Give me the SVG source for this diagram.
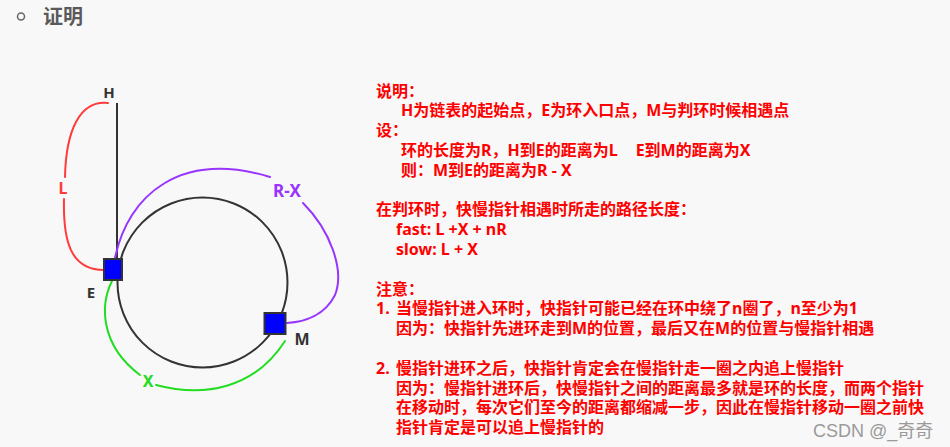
<svg xmlns="http://www.w3.org/2000/svg" width="950" height="447" viewBox="0 0 950 447">
<style>
.lbl{font-family:"Noto Sans","Liberation Sans","Noto Sans CJK SC",sans-serif;font-weight:bold;text-anchor:middle;dominant-baseline:central}
.note{font-family:"Noto Sans","Noto Sans CJK SC",sans-serif;font-weight:bold;font-size:16px;fill:#ff0000}
.box{fill:#0000ff;stroke:#333;stroke-width:2}
.ln{fill:none;stroke-width:2;stroke-linecap:round}
</style>
<rect x="0" y="0" width="950" height="447" fill="#f8f8f8"/>
<g id="title">
<circle cx="21" cy="16.5" r="3.5" fill="none" stroke="#666" stroke-width="1.5"/>
<text x="43" y="24" font-family="'Noto Sans CJK SC',sans-serif" font-weight="bold" font-size="20" fill="#5a5a5a">证明</text>
</g>
<g id="ring">
<circle cx="202.5" cy="282.5" r="85" fill="none" stroke="#333" stroke-width="2"/>
</g>
<g id="connectors">
<line x1="117" y1="103" x2="117" y2="262" stroke="#333" stroke-width="2"/>
<path class="ln" stroke="#ff3b3b" d="M108,103 C80,100 66,130 65,177"/>
<path class="ln" stroke="#ff3b3b" d="M64,199 C63,240 70,270 104,270"/>
<path class="ln" stroke="#9933ff" d="M115,258 C128,195 180,150 270,177"/>
<path class="ln" stroke="#9933ff" d="M303,203 C330,230 345,270 335,295 C325,315 305,322 287,323"/>
<path class="ln" stroke="#22dd22" d="M112,281 C100,305 100,345 140,375"/>
<path class="ln" stroke="#22dd22" d="M156,385 C205,398 255,388 285,341"/>
<text class="lbl" x="63" y="188" font-size="16" fill="#ff3b3b">L</text>
<text class="lbl" x="287" y="190" font-size="17" fill="#9933ff">R-X</text>
<text class="lbl" x="148" y="381" font-size="16" fill="#22dd22">X</text>
</g>
<g id="node-H">
<text class="lbl" x="109" y="92" font-size="15" fill="#333">H</text>
</g>
<g id="node-E">
<rect class="box" x="104" y="259" width="18" height="21"/>
<text class="lbl" x="91" y="292" font-size="15" fill="#333">E</text>
</g>
<g id="node-M">
<rect class="box" x="264.5" y="313" width="21" height="21"/>
<text class="lbl" x="302" y="339" font-size="16" fill="#333">M</text>
</g>
<g id="notes" class="note">
<text x="376" y="96.5">说明：</text>
<text x="401" y="116.3">H为链表的起始点，E为环入口点，M与判环时候相遇点</text>
<text x="376" y="136.1">设：</text>
<text x="401" y="155.9">环的长度为R，H到E的距离为L<tspan dx="18">E到M的距离为X</tspan></text>
<text x="401" y="175.7">则：M到E的距离为R - X</text>
<text x="376" y="215.3">在判环时，快慢指针相遇时所走的路径长度：</text>
<text x="396" y="235.1">fast: L +X + nR</text>
<text x="396" y="254.9">slow: L + X</text>
<text x="376" y="294.5">注意：</text>
<text x="376" y="314.3">1.<tspan x="396">当慢指针进入环时，快指针可能已经在环中绕了n圈了，n至少为1</tspan></text>
<text x="396" y="334.1">因为：快指针先进环走到M的位置，最后又在M的位置与慢指针相遇</text>
<text x="376" y="373.7">2.<tspan x="396">慢指针进环之后，快指针肯定会在慢指针走一圈之内追上慢指针</tspan></text>
<text x="396" y="393.5">因为：慢指针进环后，快慢指针之间的距离最多就是环的长度，而两个指针</text>
<text x="396" y="413.3">在移动时，每次它们至今的距离都缩减一步，因此在慢指针移动一圈之前快</text>
<text x="396" y="433.1">指针肯定是可以追上慢指针的</text>
</g>
<text x="813" y="437" font-family="'Liberation Sans','Noto Sans CJK SC',sans-serif" font-size="18" fill="#9a9a9a">CSDN @_奇奇</text>
</svg>
